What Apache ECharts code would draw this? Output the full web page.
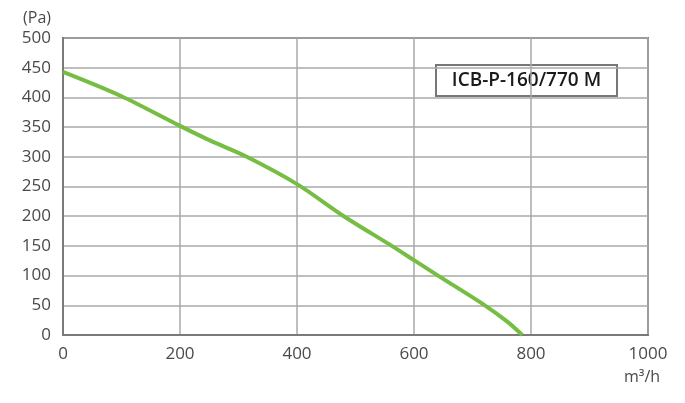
<!DOCTYPE html>
<html>
<head>
<meta charset="utf-8">
<script src="https://cdn.jsdelivr.net/npm/echarts@6/dist/echarts.min.js"></script>
<style>
  html, body { margin: 0; padding: 0; background: #fff; }
  #chart { width: 685px; height: 403px; }
</style>
</head>
<body>
<div id="chart"></div>
<script>
// airflow (m3/h) and pressure (Pa)
var flow = [0, 100, 200, 250, 314, 400, 480, 562, 600, 641, 721, 760, 785];
var pressure = [443, 402, 352, 328, 300, 254, 200, 150, 126, 100, 50, 22, 0];
var modelName = 'ICB-P-160/770 M';

var curve = flow.map(function (f, i) { return [f, pressure[i]]; });

var labelFont = '"Open Sans", sans-serif';

var myChart = echarts.init(document.getElementById('chart'));
var option = {
    backgroundColor: '#fff',
    animation: false,
    grid: {
        left: 63, right: 37, top: 38, bottom: 68,
        show: true,
        borderColor: '#7a7a7a',
        borderWidth: 2
    },
    xAxis: {
        type: 'value',
        min: 0, max: 1000, interval: 200,
        axisLine: { show: true, lineStyle: { color: '#7a7a7a', width: 2 } },
        axisTick: { show: false },
        axisLabel: {
            color: '#4a4a4a', fontSize: 17, fontFamily: labelFont, margin: 11,
            formatter: function (v) { return String(v); }
        },
        splitLine: { show: true, lineStyle: { color: '#a8a8a8', width: 1.5 } }
    },
    yAxis: {
        type: 'value',
        min: 0, max: 500, interval: 50,
        name: '(Pa)',
        nameGap: 12,
        nameTextStyle: { color: '#4a4a4a', fontSize: 16, fontFamily: labelFont, align: 'right', padding: [0, 12, 0, 0] },
        axisLine: { show: true, lineStyle: { color: '#7a7a7a', width: 2 } },
        axisTick: { show: false },
        axisLabel: { color: '#4a4a4a', fontSize: 17, fontFamily: labelFont, margin: 12 },
        splitLine: { show: true, lineStyle: { color: '#a8a8a8', width: 1.5 } }
    },
    graphic: [
        {
            type: 'text',
            left: 624, top: 369,
            style: { text: 'm³/h', fill: '#4a4a4a', font: '16px "Open Sans", sans-serif' }
        },
        {
            type: 'group',
            x: 436, y: 65,
            children: [
                {
                    type: 'rect',
                    shape: { x: 0, y: 0, width: 181, height: 31 },
                    style: { fill: 'none', stroke: '#777', lineWidth: 2 }
                },
                {
                    type: 'text',
                    x: 90.5, y: 15.5,
                    style: {
                        text: modelName, fill: '#1a1a1a',
                        font: '600 19px "Open Sans", sans-serif',
                        align: 'center', verticalAlign: 'middle'
                    }
                }
            ]
        }
    ],
    series: [{
        type: 'line',
        data: curve,
        smooth: 0.3,
        symbol: 'none',
        lineStyle: { color: '#76bd43', width: 4 }
    }]
};
myChart.setOption(option);
</script>
</body>
</html>
